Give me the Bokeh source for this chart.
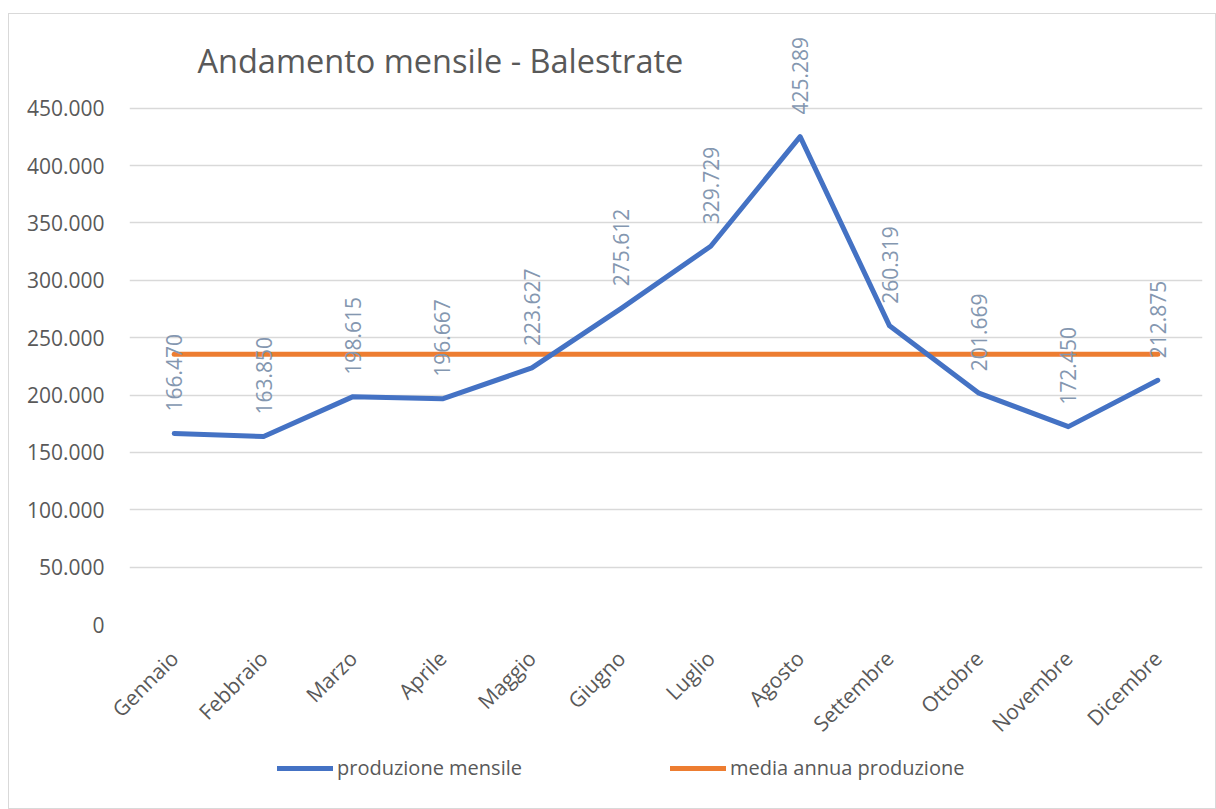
import math
from bokeh.plotting import figure
from bokeh.layouts import column
from bokeh.models import (FactorRange, Range1d, FixedTicker, Legend, LegendItem,
                          Label, ColumnDataSource)
from bokeh.core.properties import value
from bokeh.embed import file_html
from bokeh.resources import INLINE

# ---- data ----
mesi = ["Gennaio", "Febbraio", "Marzo", "Aprile", "Maggio", "Giugno",
        "Luglio", "Agosto", "Settembre", "Ottobre", "Novembre", "Dicembre"]
produzione = [166470, 163850, 198615, 196667, 223627, 275612,
              329729, 425289, 260319, 201669, 172450, 212875]
media = [235598, 235598, 235598, 235598, 235598, 235598,
         235598, 235598, 235598, 235598, 235598, 235598]
y_ticks = [0, 50000, 100000, 150000, 200000, 250000, 300000, 350000, 400000, 450000]
y_tick_labels = ["0", "50.000", "100.000", "150.000", "200.000", "250.000",
                 "300.000", "350.000", "400.000", "450.000"]
titolo = "Andamento mensile - Balestrate"
serie = ["produzione mensile", "media annua produzione"]

FONT = "Open Sans"
GREY = "#595959"
BLUE = "#4472C4"
ORANGE = "#ED7D31"

def it_fmt(v):
    return f"{v:,}".replace(",", ".")

src = ColumnDataSource(dict(mese=mesi, prod=produzione, media=media,
                            lab=[it_fmt(v) for v in produzione]))

p = figure(width=1206, height=736, x_range=FactorRange(*mesi),
           y_range=Range1d(0, 525600), output_backend="svg",
           toolbar_location=None, min_border_left=120, min_border_right=13,
           min_border_top=7, min_border_bottom=117)
p.outline_line_color = None

# axes
p.yaxis.ticker = FixedTicker(ticks=y_ticks)
p.yaxis.major_label_overrides = {t: l for t, l in zip(y_ticks, y_tick_labels)}
p.yaxis.axis_line_color = None
p.yaxis.major_tick_line_color = None
p.yaxis.minor_tick_line_color = None
p.yaxis.major_label_standoff = 19
p.yaxis.major_label_text_font = FONT
p.yaxis.major_label_text_font_size = "21px"
p.yaxis.major_label_text_color = GREY

p.xaxis.axis_line_color = None
p.xaxis.major_tick_line_color = None
p.xaxis.major_label_orientation = math.pi / 4
p.xaxis.major_label_standoff = 24
p.xaxis.major_label_text_font = FONT
p.xaxis.major_label_text_font_size = "21px"
p.xaxis.major_label_text_color = GREY

p.xgrid.grid_line_color = None
p.ygrid.grid_line_color = "#D9D9D9"
p.ygrid.grid_line_width = 1.5

# lines
p.line("mese", "media", source=src, line_color=ORANGE, line_width=5,
       line_cap="round", line_join="round")
p.line("mese", "prod", source=src, line_color=BLUE, line_width=5,
       line_cap="round", line_join="round")

# data labels
p.text("mese", "prod", text="lab", source=src, angle=math.pi / 2,
       text_align="left", text_baseline="middle", y_offset=-22,
       text_font=value(FONT), text_font_size="21px", text_color="#8497B0")

# title
p.add_layout(Label(x=68, y=564, x_units="screen", y_units="screen", text=titolo,
                   text_font=FONT, text_font_size="32.5px", text_color=GREY,
                   text_baseline="alphabetic"))

# legend strip (same series, drawn outside its visible range; only the legend shows)
pl = figure(width=1206, height=58, x_range=FactorRange(*mesi), y_range=Range1d(-2, -1),
            output_backend="svg", toolbar_location=None,
            min_border_left=0, min_border_right=0, min_border_top=0, min_border_bottom=0)
pl.axis.visible = False
pl.grid.grid_line_color = None
pl.outline_line_color = None
lr1 = pl.line("mese", "prod", source=src, line_color=BLUE, line_width=5, line_cap="round")
lr2 = pl.line("mese", "media", source=src, line_color=ORANGE, line_width=5, line_cap="round")
legend = Legend(items=[LegendItem(label=serie[0], renderers=[lr1]),
                       LegendItem(label=serie[1], renderers=[lr2])],
                orientation="horizontal", location=(148, 27),
                border_line_color=None, background_fill_alpha=0,
                glyph_width=56, glyph_height=20, label_standoff=4, spacing=148,
                padding=0, margin=0, label_text_font=FONT,
                label_text_font_size="20px", label_text_color=GREY)
pl.add_layout(legend, "center")

layout = column(p, pl, spacing=0)
layout.styles = {"border": "1px solid #D9D9D9", "position": "relative",
                 "left": "8px", "top": "13px"}

open("out.html", "w").write(file_html(layout, INLINE))
